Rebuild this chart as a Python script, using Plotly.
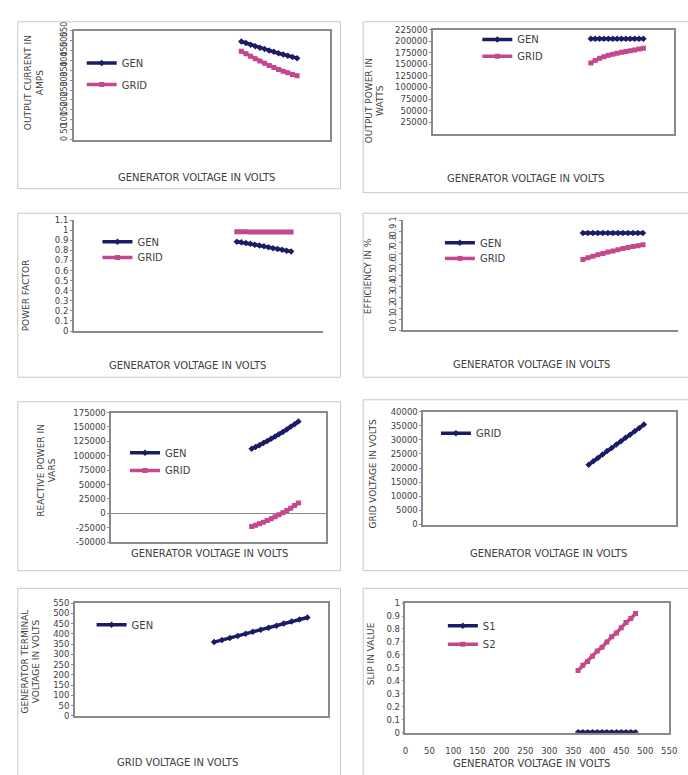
import plotly.graph_objects as go

# Generator terminal voltage (V) - common x values for the generator-side sweeps
gen_voltage = [360, 370, 380, 390, 400, 410, 420, 430, 440, 450, 460, 470, 480]

# Output current (A)
current_gen = [495, 487, 479, 471, 464, 457, 450, 443, 436, 429, 423, 417, 411]
current_grid = [446, 433, 420, 408, 396, 385, 374, 364, 354, 345, 337, 329, 322]

# Output power (W)
power_gen = [205000, 205000, 205000, 205000, 205000, 205000, 205000, 205000, 205000, 205000, 205000, 205000, 205000]
power_grid = [153000, 158500, 163000, 166500, 169500, 172000, 174000, 176000, 177800, 179500, 181200, 183000, 184700]

# Power factor
pf_gen = [0.886, 0.880, 0.873, 0.865, 0.857, 0.849, 0.840, 0.831, 0.822, 0.814, 0.806, 0.797, 0.789]
pf_grid = [0.984, 0.984, 0.984, 0.983, 0.983, 0.983, 0.983, 0.983, 0.983, 0.983, 0.982, 0.982, 0.982]

# Efficiency (per unit)
eff_gen = [0.884, 0.884, 0.884, 0.884, 0.884, 0.884, 0.884, 0.884, 0.883, 0.883, 0.883, 0.883, 0.883]
eff_grid = [0.643, 0.658, 0.672, 0.685, 0.697, 0.709, 0.720, 0.731, 0.741, 0.750, 0.759, 0.768, 0.777]

# Reactive power (VAR)
q_gen = [112000, 115200, 118500, 122000, 125600, 129400, 133300, 137300, 141500, 145800, 150200, 154800, 159600]
q_grid = [-22700, -20500, -18000, -15300, -12400, -9300, -6000, -2500, 1200, 5000, 9000, 13500, 18200]

# Grid voltage (V)
grid_voltage = [21200, 22400, 23600, 24800, 26000, 27100, 28300, 29500, 30700, 31800, 33000, 34200, 35400]

# Slip values
s1 = [0.004, 0.004, 0.004, 0.004, 0.004, 0.004, 0.004, 0.004, 0.004, 0.004, 0.004, 0.004, 0.004]
s2 = [0.48, 0.52, 0.55, 0.59, 0.63, 0.66, 0.70, 0.74, 0.77, 0.81, 0.85, 0.88, 0.92]

W, H = 688, 775
NAVY = "#1c1c66"
PINK = "#c4488e"
AXC = "#8a8a8a"
TXT = "#404040"
FONT = "DejaVu Sans"


def dx(a, b):
    return [a / W, b / W]


def dy(top, bottom):
    return [1 - bottom / H, 1 - top / H]


def px(x):
    return x / W


def py(y):
    return 1 - y / H


fig = go.Figure()

# panel plot-area geometry (pixels): x0, x1, top, bottom
panels = [
    dict(box=(72, 332, 22, 133), xr=[0, 550], yr=[0, 550], yt=list(range(0, 551, 50)), rot=True),
    dict(box=(437, 682, 21, 127), xr=[0, 550], yr=[0, 225000], yt=list(range(25000, 225001, 25000))),
    dict(box=(72, 325, 215, 328), xr=[0, 550], yr=[0, 1.1], yt=[i / 10 for i in range(12)], open=True),
    dict(box=(406, 686, 215, 327), xr=[0, 550], yr=[0, 1.0], yt=[i / 10 for i in range(11)], rot=True, open=True),
    dict(box=(110, 328, 411, 543), xr=[0, 550], yr=[-50000, 175000], yt=list(range(-50000, 175001, 25000)), zero=True),
    dict(box=(427, 684, 410, 525), xr=[0, 550], yr=[0, 40000], yt=list(range(0, 40001, 5000))),
    dict(box=(73, 330, 605, 720), xr=[0, 38500], yr=[0, 550], yt=list(range(0, 551, 50))),
    dict(box=(409, 677, 605, 737), xr=[0, 550], yr=[0, 1.0], yt=[i / 10 for i in range(11)], xt=True),
]


def fmt(v):
    if isinstance(v, float):
        s = ("%.1f" % v)
        return s[:-2] if s.endswith(".0") else s
    return str(v)


layout_axes = {}
for i, p in enumerate(panels, start=1):
    x0, x1, t, b = p["box"]
    mirror = not p.get("open")
    xa = dict(domain=dx(x0, x1), range=p["xr"], showgrid=False, zeroline=False,
              showline=True, linecolor=AXC, linewidth=1.5, mirror=mirror,
              ticks="", showticklabels=bool(p.get("xt")),
              anchor="y" if i == 1 else "y%d" % i)
    if p.get("xt"):
        xa.update(tickmode="array", tickvals=list(range(0, 551, 50)),
                  ticks="outside", ticklen=9, tickcolor="rgba(0,0,0,0)",
                  tickfont=dict(family=FONT, size=8.5, color=TXT))
    ya = dict(domain=dy(t, b), range=p["yr"], showgrid=False,
              zeroline=bool(p.get("zero")), zerolinecolor=AXC, zerolinewidth=1.2,
              showline=True, linecolor=AXC, linewidth=1.5, mirror=mirror,
              ticks="outside", ticklen=2, tickcolor=AXC,
              tickmode="array", tickvals=p["yt"], ticktext=[fmt(v) for v in p["yt"]],
              tickfont=dict(family=FONT, size=8 if p.get("rot") else 8.5, color=TXT),
              anchor="x" if i == 1 else "x%d" % i)
    if p.get("rot"):
        ya.update(tickangle=-90)
    layout_axes["xaxis" if i == 1 else "xaxis%d" % i] = xa
    layout_axes["yaxis" if i == 1 else "yaxis%d" % i] = ya


series = [
    # panel, x, y, name, color, symbol, legend position (px x, px y)
    (1, gen_voltage, current_gen, "GEN", NAVY, "diamond", (80, 55)),
    (1, gen_voltage, current_grid, "GRID", PINK, "square", (80, 77)),
    (2, gen_voltage, power_gen, "GEN", NAVY, "diamond", (482, 31)),
    (2, gen_voltage, power_grid, "GRID", PINK, "square", (482, 48)),
    (3, gen_voltage, pf_gen, "GEN", NAVY, "diamond", (96, 237)),
    (3, gen_voltage, pf_grid, "GRID", PINK, "square", (96, 253)),
    (4, gen_voltage, eff_gen, "GEN", NAVY, "diamond", (444, 238)),
    (4, gen_voltage, eff_grid, "GRID", PINK, "square", (444, 254)),
    (5, gen_voltage, q_gen, "GEN", NAVY, "diamond", (124, 452)),
    (5, gen_voltage, q_grid, "GRID", PINK, "square", (124, 470)),
    (6, gen_voltage, grid_voltage, "GRID", NAVY, "diamond", (440, 432)),
    (7, grid_voltage, gen_voltage, "GEN", NAVY, "diamond", (90, 627)),
    (8, gen_voltage, s1, "S1", NAVY, "diamond", (447, 628)),
    (8, gen_voltage, s2, "S2", PINK, "square", (447, 647)),
]

legends = {}
for k, (pn, xs, ys, name, col, sym, (lx, ly)) in enumerate(series, start=1):
    lg = "legend" if k == 1 else "legend%d" % k
    fig.add_trace(go.Scatter(
        x=xs, y=ys, name=name, mode="lines+markers",
        line=dict(color=col, width=3.5),
        marker=dict(color=col, symbol=sym, size=5, line=dict(width=0)),
        xaxis="x" if pn == 1 else "x%d" % pn,
        yaxis="y" if pn == 1 else "y%d" % pn,
        legend=lg, showlegend=True,
    ))
    legends[lg] = dict(x=px(lx), y=py(ly), xanchor="left", yanchor="middle",
                       bgcolor="rgba(0,0,0,0)", borderwidth=0, itemwidth=30,
                       font=dict(family=FONT, size=10, color=TXT), tracegroupgap=0)

annotations = []


def xtitle(text, cx, cy):
    annotations.append(dict(text=text, x=px(cx), y=py(cy), xref="paper", yref="paper",
                            showarrow=False, xanchor="center", yanchor="middle",
                            font=dict(family=FONT, size=10, color=TXT)))


def ytitle(text, cx, cy):
    annotations.append(dict(text=text, x=px(cx), y=py(cy), xref="paper", yref="paper",
                            showarrow=False, xanchor="center", yanchor="middle", textangle=-90,
                            font=dict(family=FONT, size=9, color=TXT)))


xtitle("GENERATOR VOLTAGE IN VOLTS", 197, 172)
xtitle("GENERATOR VOLTAGE IN VOLTS", 531, 173)
xtitle("GENERATOR VOLTAGE IN VOLTS", 187, 363)
xtitle("GENERATOR VOLTAGE IN VOLTS", 537, 362)
xtitle("GENERATOR VOLTAGE IN VOLTS", 210, 555)
xtitle("GENERATOR VOLTAGE IN VOLTS", 554, 555)
xtitle("GRID VOLTAGE IN VOLTS", 177, 767)
xtitle("GENERATOR VOLTAGE IN VOLTS", 537, 768)

ytitle("OUTPUT CURRENT IN<br>AMPS", 31, 75)
ytitle("OUTPUT POWER IN<br>WATTS", 378, 93)
ytitle("POWER FACTOR", 23, 292)
ytitle("EFFICIENCY IN %", 371, 272)
ytitle("REACTIVE POWER IN<br>VARS", 44, 470)
ytitle("GRID VOLTAGE IN VOLTS", 376, 473)
ytitle("GENERATOR TERMINAL<br>VOLTAGE IN VOLTS", 28, 665)
ytitle("SLIP IN VALUE", 374, 657)

# chart-area frames
shapes = []
frames = [(15, 343, 13, 183), (366, 700, 13, 187), (15, 343, 208, 375), (366, 700, 208, 375),
          (15, 343, 400, 572), (366, 700, 398, 572), (15, 343, 590, 790), (366, 700, 590, 790)]
for (a, b, t, bt) in frames:
    shapes.append(dict(type="rect", xref="paper", yref="paper",
                       x0=px(a), x1=px(b), y0=py(bt), y1=py(t),
                       line=dict(color="#c8c8c8", width=1)))

fig.update_layout(
    width=W, height=H, margin=dict(l=0, r=0, t=0, b=0),
    paper_bgcolor="white", plot_bgcolor="white",
    annotations=annotations, shapes=shapes,
    **layout_axes, **legends,
)

fig.write_html("out.html")
